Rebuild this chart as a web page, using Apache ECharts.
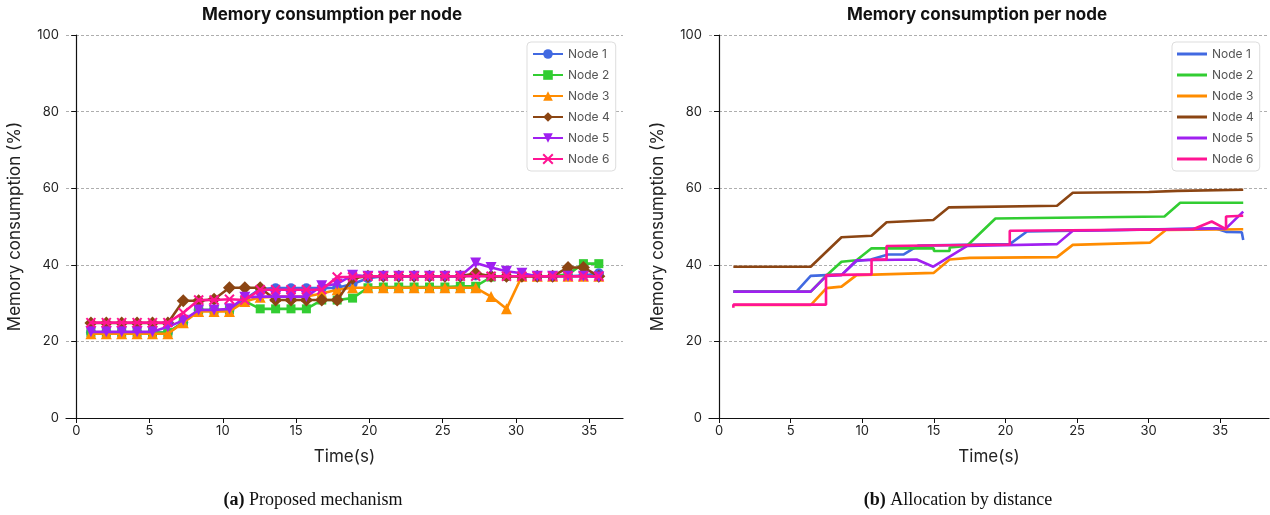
<!DOCTYPE html>
<html><head><meta charset="utf-8">
<script src="https://cdn.jsdelivr.net/npm/echarts@6/dist/echarts.min.js"></script>
<style>html,body{margin:0;padding:0;background:#fff}#c{width:1270px;height:515px}</style>
</head><body><div id="c"></div>
<script>
// ---------- data ----------
const nodeNames = ['Node 1','Node 2','Node 3','Node 4','Node 5','Node 6'];
const colors = ['#4169E1','#32CD32','#FF8C00','#8B4513','#A020F0','#FF1493'];
const xTicks = [0,5,10,15,20,25,30,35];
const yTicks = [0,20,40,60,80,100];

// (a) Proposed mechanism: sample times (s)
const timeA = [1.00,2.05,3.10,4.15,5.20,6.25,7.30,8.35,9.40,10.45,11.50,12.55,13.60,14.65,15.70,16.75,17.80,
  18.85,19.90,20.95,22.00,23.05,24.10,25.15,26.20,27.25,28.30,29.35,30.40,31.45,32.50,33.55,34.60,35.65];
const a_node1 = [22.3,22.3,22.3,22.3,22.3,22.3,25.0,28.2,28.2,28.2,31.0,33.7,33.9,33.9,33.9,33.9,34.0,
  35.0,36.5,37.0,37.0,37.0,37.0,37.0,37.0,37.2,37.0,37.0,37.0,37.0,37.0,37.0,37.2,37.8];
const a_node2 = [22.3,22.3,22.3,22.3,22.3,22.3,25.0,28.2,28.2,28.2,30.5,28.5,28.5,28.5,28.5,30.8,30.8,
  31.3,34.0,34.2,34.2,34.2,34.2,34.2,34.4,34.4,36.8,37.0,37.0,37.0,37.0,37.5,40.3,40.3];
const a_node3 = [22.0,22.0,22.0,22.0,22.0,22.0,24.9,27.8,27.8,27.8,30.4,31.5,31.7,31.7,31.7,32.5,33.5,
  34.0,34.0,34.0,34.0,34.0,34.0,34.0,34.0,34.0,31.7,28.5,37.0,37.0,37.0,37.0,37.0,37.0];
const a_node4 = [24.8,24.8,24.8,24.8,24.8,24.8,30.6,30.6,31.0,34.0,34.0,34.0,30.8,30.8,30.8,30.8,30.8,
  36.5,37.0,37.0,37.0,37.0,37.0,37.0,37.0,37.8,37.0,37.0,37.0,37.0,37.0,39.3,39.3,37.0];
const a_node5 = [22.5,22.5,22.5,22.5,22.5,23.8,25.5,28.2,28.2,28.5,31.5,31.7,31.7,31.7,31.7,34.5,35.0,
  37.3,37.0,37.0,37.0,37.0,37.0,37.0,37.0,40.5,39.3,38.3,37.8,37.0,37.0,37.0,37.0,36.8];
const a_node6 = [24.9,24.9,24.9,24.9,24.9,24.9,27.5,30.8,30.8,31.0,30.8,33.5,33.5,33.5,33.5,33.5,36.8,
  36.8,37.0,37.0,37.0,37.0,37.0,37.0,37.0,37.0,37.0,37.0,37.0,37.0,37.0,37.0,37.0,37.0];

// (b) Allocation by distance: [time (s), memory (%)] breakpoints
const b_node1 = [[1.0,33.0],[5.4,33.0],[6.4,37.1],[7.5,37.3],[8.6,37.5],[9.6,41.0],[10.6,41.4],[11.8,42.7],
  [12.9,42.7],[13.9,45.0],[20.3,45.4],[21.5,48.7],[34.7,49.5],[35.4,48.6],[36.5,48.5],[36.6,46.5]];
const b_node2 = [[1.0,33.0],[6.4,33.0],[7.5,37.2],[8.55,40.8],[9.6,41.2],[10.65,44.3],[15.0,44.3],[15.0,43.6],
  [16.1,43.6],[16.1,44.5],[17.3,44.9],[19.3,52.1],[23.6,52.3],[31.1,52.6],[32.2,56.2],[36.6,56.2]];
const b_node3 = [[1.0,29.5],[6.4,29.5],[7.5,33.9],[8.55,34.3],[9.6,37.3],[15.0,37.9],[16.1,41.4],[17.5,41.8],
  [23.6,42.0],[24.7,45.2],[30.1,45.8],[31.2,49.1],[36.6,49.3]];
const b_node4 = [[1.0,39.5],[6.4,39.5],[8.55,47.2],[10.65,47.6],[11.7,51.1],[14.96,51.7],[16.05,55.0],[23.6,55.4],
  [24.7,58.8],[30.0,59.0],[32.0,59.3],[36.6,59.6]];
const b_node5 = [[1.0,33.0],[6.4,33.0],[7.5,37.1],[8.55,37.3],[9.6,41.2],[13.8,41.4],[14.96,39.5],[17.3,44.9],
  [23.6,45.4],[24.7,48.9],[35.4,49.5],[36.6,53.9]];
const b_node6 = [[1.0,28.8],[1.0,29.6],[7.47,29.6],[7.47,37.3],[10.65,37.5],[10.65,41.4],[11.7,41.4],[11.7,44.9],
  [20.3,45.3],[20.3,48.9],[33.1,49.3],[34.4,51.3],[35.4,49.3],[35.4,52.6],[36.6,52.8]];

const seriesA = [a_node1,a_node2,a_node3,a_node4,a_node5,a_node6];
const seriesB = [b_node1,b_node2,b_node3,b_node4,b_node5,b_node6];

// ---------- styling ----------
const FONT = 'Inter, "Noto Sans", sans-serif';
const symbols = ['circle','rect','triangle','diamond','triangle','path://M0,0 L10,10 M10,0 L0,10'];
const symSizes = [10,9,11,13,11,9];
const symRot = [0,0,0,0,180,0];

function xAxisCfg(gi, min, max){
  return {
    type:'value', gridIndex:gi, min:min, max:max,
    name:'Time(s)', nameLocation:'middle', nameGap:30,
    nameTextStyle:{fontFamily:FONT,fontSize:17,color:'#222'},
    axisLine:{show:true,lineStyle:{color:'#111',width:1.2}},
    axisTick:{show:true,length:5,customValues:xTicks,lineStyle:{color:'#111'}},
    axisLabel:{customValues:xTicks,fontFamily:FONT,fontSize:13,color:'#222',margin:7},
    splitLine:{show:false}
  };
}
function yAxisCfg(gi){
  return {
    type:'value', gridIndex:gi, min:0, max:100, interval:20,
    name:'Memory consumption (%)', nameLocation:'middle', nameGap:43, nameRotate:90,
    nameTextStyle:{fontFamily:FONT,fontSize:17,color:'#222'},
    axisLine:{show:true,lineStyle:{color:'#111',width:1.2}},
    axisTick:{show:true,length:5,lineStyle:{color:'#111'}},
    axisLabel:{fontFamily:FONT,fontSize:13,color:'#222',margin:7},
    splitLine:{show:true,lineStyle:{color:'#999',width:0.8,type:[3,2]}}
  };
}

const series = [];
seriesA.forEach((vals,i)=>{
  series.push({
    name:nodeNames[i], type:'line', xAxisIndex:0, yAxisIndex:0,
    data: timeA.map((t,k)=>[t, vals[k]]),
    symbol:symbols[i], symbolSize:symSizes[i], symbolRotate:symRot[i], showAllSymbol:true,
    lineStyle:{color:colors[i],width:2.6},
    itemStyle:{color:colors[i],borderColor:colors[i],borderWidth: i===5?2:0},
    animation:false, z:2+i
  });
});
seriesB.forEach((pts,i)=>{
  series.push({
    name:nodeNames[i], type:'line', xAxisIndex:1, yAxisIndex:1,
    data: pts, symbol:'none',
    lineStyle:{color:colors[i],width:2.6},
    itemStyle:{color:colors[i]},
    animation:false, z:2+i
  });
});

const legendCommon = {
  orient:'vertical', itemGap:9, itemHeight:12, itemWidth:30,
  textStyle:{fontFamily:FONT,fontSize:12,color:'#555'},
  backgroundColor:'#fff', borderColor:'#ddd', borderWidth:1, borderRadius:4,
  padding:[6,6,6,5], selectedMode:false
};

const option = {
  backgroundColor:'#fff',
  animation:false,
  grid:[
    {left:66, top:35, width:557, height:383},
    {left:709, top:35, width:560, height:383}
  ],
  xAxis:[xAxisCfg(0,-0.7,37.3), xAxisCfg(1,-0.7,38.4)],
  yAxis:[yAxisCfg(0), yAxisCfg(1)],
  legend:[
    Object.assign({left:527, top:42, data:nodeNames.slice()}, legendCommon),
    Object.assign({left:1172, top:42, data:nodeNames.map(n=>({name:n, icon:'rect'}))}, legendCommon,
      {itemHeight:3, itemGap:9, itemStyle:{borderWidth:0}})
  ],
  graphic:[
    {type:'text', x:332, y:15, style:{text:'Memory consumption per node', textAlign:'center', textVerticalAlign:'middle', align:'center', verticalAlign:'middle', font:'bold 17px Inter, "Noto Sans", sans-serif', fill:'#111'}},
    {type:'text', x:977, y:15, style:{text:'Memory consumption per node', textAlign:'center', textVerticalAlign:'middle', align:'center', verticalAlign:'middle', font:'bold 17px Inter, "Noto Sans", sans-serif', fill:'#111'}},
    {type:'text', x:313, y:500, style:{text:'{b|(a)} Proposed mechanism', textAlign:'center', textVerticalAlign:'middle', align:'center', verticalAlign:'middle', font:'18px "Liberation Serif", serif', fill:'#111', rich:{b:{fontWeight:'bold', fontFamily:'"Liberation Serif", serif', fontSize:18, fill:'#111'}}}},
    {type:'text', x:958, y:500, style:{text:'{b|(b)} Allocation by distance', textAlign:'center', textVerticalAlign:'middle', align:'center', verticalAlign:'middle', font:'18px "Liberation Serif", serif', fill:'#111', rich:{b:{fontWeight:'bold', fontFamily:'"Liberation Serif", serif', fontSize:18, fill:'#111'}}}}
  ],
  series: series
};

const chart = echarts.init(document.getElementById('c'), null, {renderer:'canvas'});
chart.setOption(option);
</script>
</body></html>
